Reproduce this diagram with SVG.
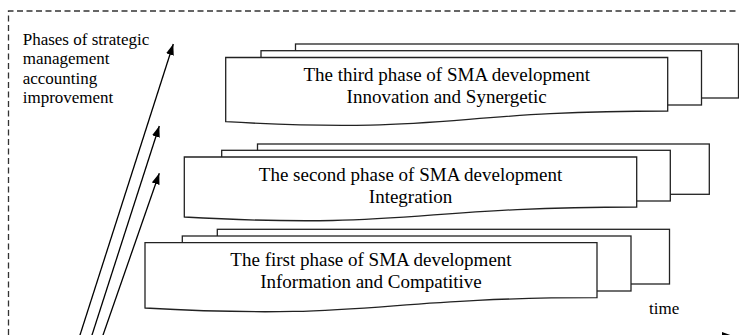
<svg xmlns="http://www.w3.org/2000/svg" width="739" height="335" viewBox="0 0 739 335">
<style>
.sheet{fill:#fff;stroke:#222;stroke-width:1.3}
.t{font-family:"Liberation Serif","Times New Roman",serif;font-size:19px;fill:#000;text-anchor:middle}
.lbl{font-family:"Liberation Serif","Times New Roman",serif;font-size:17px;fill:#000}
.arr{stroke:#000;stroke-width:1.3;fill:none}
.border{fill:none;stroke:#333;stroke-width:1.3;stroke-dasharray:6,3.5}
</style>
<defs>
<marker id="ah" markerUnits="userSpaceOnUse" markerWidth="11" markerHeight="8" refX="11" refY="4" orient="auto">
<path d="M0,0 L11,4 L0,8 z" fill="#000"/>
</marker>
</defs>
<path class="border" d="M8.5,335 V11 H739"/>
<text class="lbl" x="22.7" y="44.6">Phases of strategic</text>
<text class="lbl" x="22.7" y="64.2">management</text>
<text class="lbl" x="22.7" y="83.8">accounting</text>
<text class="lbl" x="22.7" y="103.4">improvement</text>
<text class="lbl" x="649" y="314">time</text>
<g id="phase3">
<rect class="sheet" x="295.5" y="44" width="443" height="54"/>
<rect class="sheet" x="261" y="50.7" width="440.5" height="54.3"/>
<path class="sheet" d="M225.7,57.5 H667.7 V111 C446.7,111 446.7,134.2 225.7,121.7 Z"/>
<text class="t" x="446.7" y="81">The third phase of SMA development</text>
<text class="t" x="446.7" y="103">Innovation and Synergetic</text>
</g>
<g id="phase2">
<rect class="sheet" x="257.5" y="144" width="451.8" height="50.3"/>
<rect class="sheet" x="221.7" y="150.3" width="448.6" height="50.7"/>
<path class="sheet" d="M184.3,157 H636.7 V207 C410.5,207 410.5,229.5 184.3,217 Z"/>
<text class="t" x="410.5" y="180.5">The second phase of SMA development</text>
<text class="t" x="410.5" y="202.5">Integration</text>
</g>
<g id="phase1">
<rect class="sheet" x="217.3" y="229.3" width="452.2" height="54.7"/>
<rect class="sheet" x="182.3" y="236" width="448.7" height="55"/>
<path class="sheet" d="M145,242.7 H597 V297.7 C371,297.7 371,320.5 145,308 Z"/>
<text class="t" x="371" y="266">The first phase of SMA development</text>
<text class="t" x="371" y="288">Information and Compatitive</text>
</g>
<g id="connectors">
<line class="arr" x1="78.4" y1="340" x2="173.3" y2="44" marker-end="url(#ah)"/>
<line class="arr" x1="90.4" y1="340" x2="159.3" y2="126" marker-end="url(#ah)"/>
<line class="arr" x1="101.3" y1="340" x2="159.3" y2="173.3" marker-end="url(#ah)"/>
<line class="arr" x1="110" y1="336" x2="733" y2="336" marker-end="url(#ah)"/>
</g>
</svg>
